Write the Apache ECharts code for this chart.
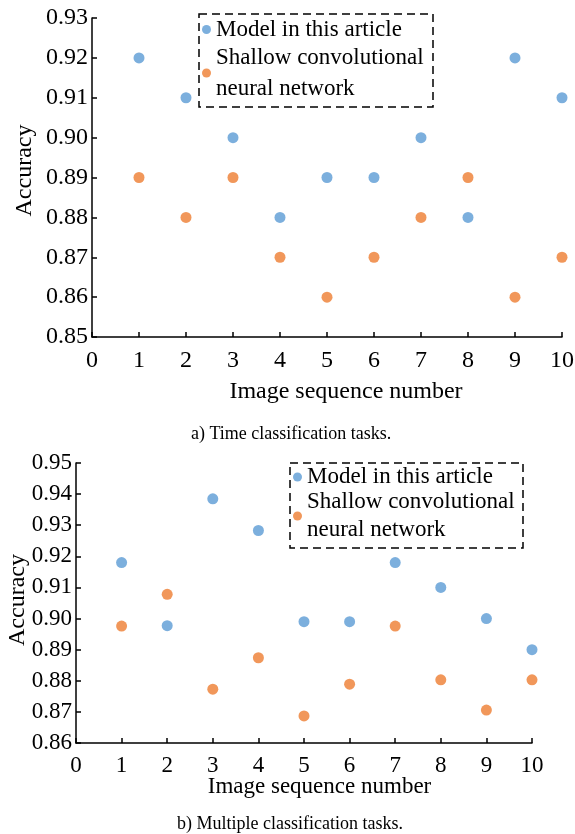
<!DOCTYPE html>
<html>
<head>
<meta charset="utf-8">
<script src="https://cdn.jsdelivr.net/npm/echarts@6/dist/echarts.min.js"></script>
<style>
  html, body { margin: 0; padding: 0; background: #fff; }
  #chart { width: 575px; height: 834px; }
</style>
</head>
<body>
<div id="chart"></div>
<script>
// image sequence numbers (x)
const seqNumbers = [1, 2, 3, 4, 5, 6, 7, 8, 9, 10];
const seriesNames = ["Model in this article", "Shallow convolutional\nneural network"];

// a) time classification tasks
const timeModel = [0.92, 0.91, 0.90, 0.88, 0.89, 0.89, 0.90, 0.88, 0.92, 0.91];
const timeShallow = [0.89, 0.88, 0.89, 0.87, 0.86, 0.87, 0.88, 0.89, 0.86, 0.87];

// b) multiple classification tasks
const multiModel = [0.918, 0.8977, 0.9385, 0.9283, 0.899, 0.899, 0.918, 0.910, 0.900, 0.890];
const multiShallow = [0.8976, 0.9078, 0.8773, 0.8874, 0.8687, 0.8789, 0.8976, 0.8803, 0.8706, 0.8803];

const captions = ["a) Time classification tasks.", "b) Multiple classification tasks."];

const font = "'Liberation Serif', 'Times New Roman', serif";
const colors = ["#5B9BD5", "#ED7D31"];

function pairs(ys) {
  return seqNumbers.map((x, i) => [x, ys[i]]);
}

function xAxisCfg(gridIndex, size, gap, margin, shift) {
  return {
    gridIndex: gridIndex,
    type: "value",
    min: 0,
    max: 10,
    interval: 1,
    name: "Image sequence number",
    nameLocation: "middle",
    nameGap: gap,
    nameMoveOverlap: false,
    nameTextStyle: { fontFamily: font, fontSize: size, color: "#000", padding: [0, 0, 0, shift] },
    axisLine: { lineStyle: { color: "#000", width: 1.5 } },
    axisTick: { inside: true, length: 5, lineStyle: { color: "#000", width: 1.5 } },
    axisLabel: { fontFamily: font, fontSize: size, color: "#000", margin: margin },
    splitLine: { show: false }
  };
}

function yAxisCfg(gridIndex, min, max, size, nameSize, gap, shift) {
  return {
    gridIndex: gridIndex,
    type: "value",
    min: min,
    max: max,
    interval: 0.01,
    name: "Accuracy",
    nameLocation: "middle",
    nameRotate: 90,
    nameGap: gap,
    nameMoveOverlap: false,
    nameTextStyle: { fontFamily: font, fontSize: nameSize, color: "#000", padding: [0, 0, 0, shift] },
    axisLine: { show: true, lineStyle: { color: "#000", width: 1.5 } },
    axisTick: { show: true, inside: true, length: 5, lineStyle: { color: "#000", width: 1.5 } },
    axisLabel: {
      fontFamily: font, fontSize: size, color: "#000", margin: 4,
      formatter: v => v.toFixed(2)
    },
    splitLine: { show: false }
  };
}

function scatter(name, idx, data, color) {
  return {
    name: name,
    type: "scatter",
    xAxisIndex: idx,
    yAxisIndex: idx,
    symbol: "circle",
    symbolSize: 11,
    itemStyle: { color: color },
    data: pairs(data)
  };
}

function legendCfg(left, top, size, lh, gap) {
  return {
    orient: "vertical",
    left: left,
    top: top,
    padding: 0,
    itemGap: gap,
    icon: "circle",
    itemWidth: 9,
    itemHeight: 9,
    data: seriesNames,
    textStyle: { fontFamily: font, fontSize: size, color: "#000", lineHeight: lh }
  };
}

let myChart = echarts.init(document.getElementById("chart"));
let option = {
  backgroundColor: "#fff",
  animation: false,
  title: [
    {
      text: captions[0], left: 186, top: 420,
      textStyle: { fontFamily: font, fontSize: 18, fontWeight: "normal", color: "#000" }
    },
    {
      text: captions[1], left: 172, top: 810,
      textStyle: { fontFamily: font, fontSize: 18, fontWeight: "normal", color: "#000" }
    }
  ],
  grid: [
    { left: 92, top: 18, width: 470, height: 319, outerBoundsMode: "none" },
    { left: 76, top: 463, width: 456, height: 280, outerBoundsMode: "none" }
  ],
  xAxis: [xAxisCfg(0, 24, 43, 12, 38), xAxisCfg(1, 23, 32, 11, 31)],
  yAxis: [yAxisCfg(0, 0.85, 0.93, 24, 24, 55, 14), yAxisCfg(1, 0.86, 0.95, 23, 24, 46, 6)],
  legend: [legendCfg(202, 14, 23, 31, -3), legendCfg(293, 463, 23, 28, -3)],
  graphic: [
    {
      type: "rect",
      shape: { x: 199, y: 14, width: 234, height: 93 },
      style: { fill: "none", stroke: "#000", lineWidth: 1.5, lineDash: [8, 5] }
    },
    {
      type: "rect",
      shape: { x: 290, y: 463, width: 233, height: 85 },
      style: { fill: "none", stroke: "#000", lineWidth: 1.5, lineDash: [8, 5] }
    }
  ],
  series: [
    scatter(seriesNames[0], 0, timeModel, colors[0]),
    scatter(seriesNames[1], 0, timeShallow, colors[1]),
    scatter(seriesNames[0], 1, multiModel, colors[0]),
    scatter(seriesNames[1], 1, multiShallow, colors[1])
  ]
};
myChart.setOption(option);

window.addEventListener("resize", function() {
  myChart.resize();
});
</script>
</body>
</html>
